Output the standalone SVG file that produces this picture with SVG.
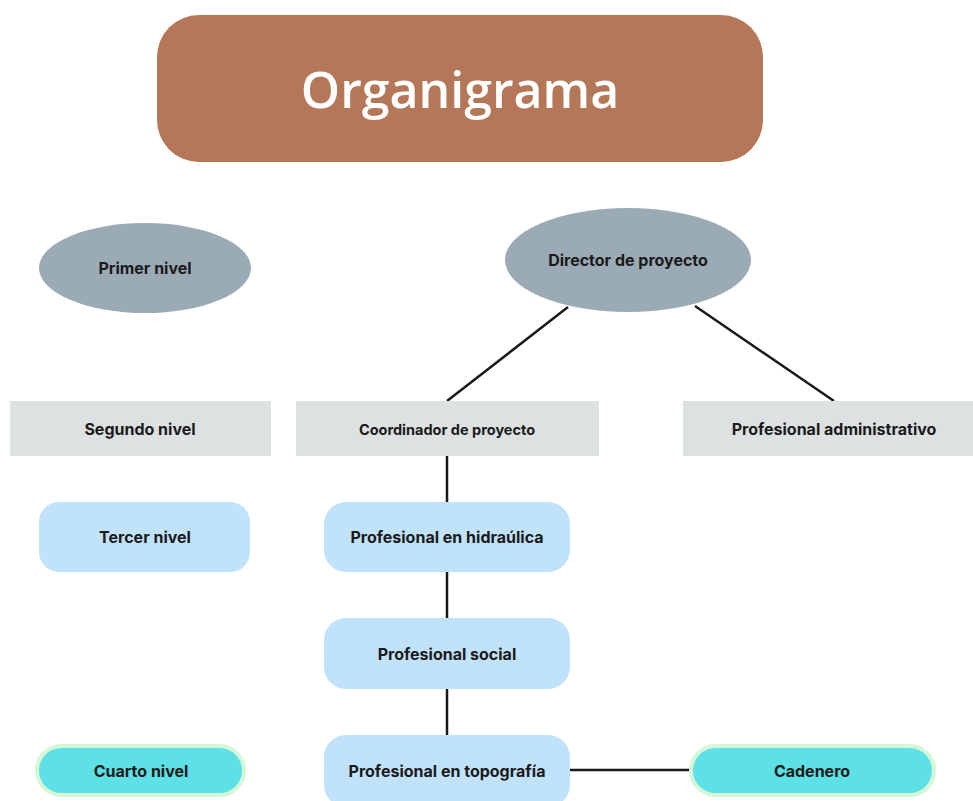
<svg xmlns="http://www.w3.org/2000/svg" width="973" height="801" viewBox="0 0 973 801">
<style>
.lbl{font-family:Inter,"Noto Sans","Liberation Sans",sans-serif;font-weight:700;font-size:16px;fill:#1a1a1a;text-anchor:middle;dominant-baseline:central}
.small{font-size:14.5px}
.oval{fill:#9BABB6}
.box{fill:#DDE1E2}
.blue{fill:#C1E2FB}
.pill{fill:#5DE0E6;stroke:#D4F7D8;stroke-width:4}
.conn line{stroke:#1a1a1a;stroke-width:2.5}
</style>
<rect width="973" height="801" fill="#ffffff"/>
<g id="title">
<rect x="157" y="15" width="606" height="147" rx="42" fill="#B47757"/>
<text x="460" y="89" font-family="'Open Sans','Noto Sans',sans-serif" font-weight="600" font-size="50" fill="#ffffff" text-anchor="middle" dominant-baseline="central">Organigrama</text>
</g>
<g class="conn" id="connectors">
<line x1="568" y1="307" x2="447" y2="401"/>
<line x1="695" y1="306" x2="834" y2="401"/>
<line x1="447" y1="456" x2="447" y2="502"/>
<line x1="447" y1="572" x2="447" y2="618"/>
<line x1="447" y1="689" x2="447" y2="735"/>
<line x1="570" y1="770" x2="690" y2="770"/>
</g>
<g id="primer-nivel"><ellipse class="oval" cx="145" cy="268" rx="106" ry="45"/><text class="lbl" x="145" y="268">Primer nivel</text></g>
<g id="director"><ellipse class="oval" cx="628" cy="260" rx="123" ry="52"/><text class="lbl" x="628" y="260">Director de proyecto</text></g>
<g id="segundo-nivel"><rect class="box" x="10" y="401" width="261" height="55"/><text class="lbl" x="140" y="429">Segundo nivel</text></g>
<g id="coordinador"><rect class="box" x="296" y="401" width="303" height="55"/><text class="lbl small" x="447" y="429">Coordinador de proyecto</text></g>
<g id="administrativo"><rect class="box" x="683" y="401" width="290" height="55"/><text class="lbl" x="834" y="429">Profesional administrativo</text></g>
<g id="tercer-nivel"><rect class="blue" x="39" y="502" width="211" height="70" rx="20"/><text class="lbl" x="145" y="537">Tercer nivel</text></g>
<g id="hidraulica"><rect class="blue" x="324" y="502" width="246" height="70" rx="22"/><text class="lbl" x="447" y="537">Profesional en hidraúlica</text></g>
<g id="social"><rect class="blue" x="324" y="618" width="246" height="71" rx="22"/><text class="lbl" x="447" y="654">Profesional social</text></g>
<g id="topografia"><rect class="blue" x="324" y="735" width="246" height="72" rx="22"/><text class="lbl" x="447" y="771">Profesional en topografía</text></g>
<g id="cuarto-nivel"><rect class="pill" x="37" y="746" width="207" height="49" rx="24.5"/><text class="lbl" x="141" y="771">Cuarto nivel</text></g>
<g id="cadenero"><rect class="pill" x="691" y="746" width="243" height="49" rx="24.5"/><text class="lbl" x="812" y="771">Cadenero</text></g>
</svg>
